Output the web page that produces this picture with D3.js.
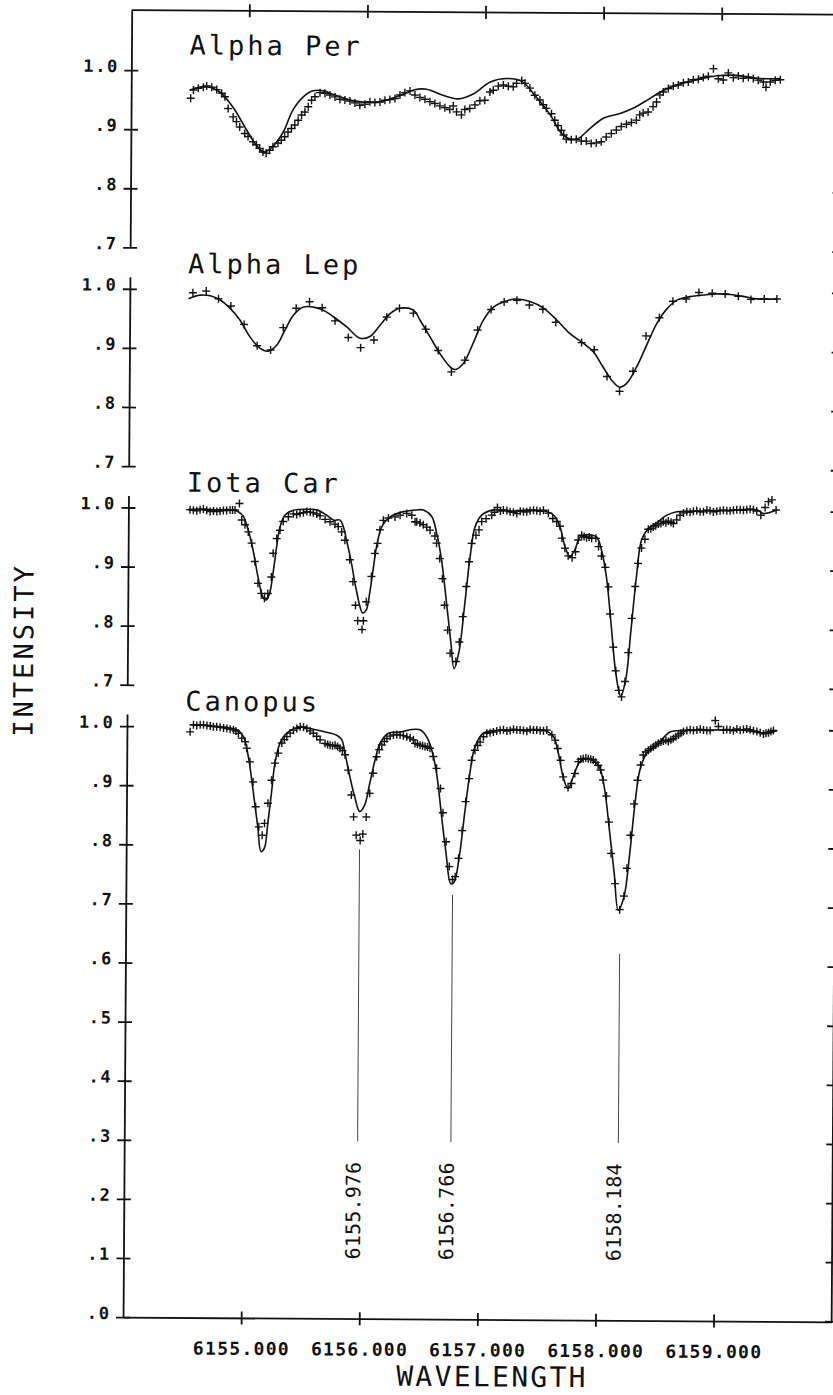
<!DOCTYPE html>
<html>
<head>
<meta charset="utf-8">
<script src="https://cdn.jsdelivr.net/npm/d3@7"></script>
<style>
  body { margin: 0; background: #fff; }
  svg { display: block; background: #fff; }
  text { font-family: "DejaVu Sans Mono", monospace; fill: #111; }
</style>
</head>
<body>
<svg id="chart" width="833" height="1395"></svg>
<script>

/* Star names, top to bottom */
var starNames = ["Alpha Per", "Alpha Lep", "Iota Car", "Canopus"];

/* Tick values */
var upperTicks = [1.0, 0.9, 0.8, 0.7];
var lowerTicks = [1.0, 0.9, 0.8, 0.7, 0.6, 0.5, 0.4, 0.3, 0.2, 0.1, 0.0];
var wavelengthTicks = [6155, 6156, 6157, 6158, 6159];

/* Marked line centres */
var lineIds = [6155.976, 6156.766, 6158.184];
var lineTops = [0.794, 0.718, 0.62];

/* Synthetic spectra (solid curves), [wavelength, intensity] */
var alphaPerModel = [[6154.498,0.967],[6154.625,0.973],[6154.750,0.964],[6154.860,0.939],[6154.980,0.900],[6155.060,0.875],[6155.130,0.863],[6155.200,0.872],[6155.290,0.897],[6155.370,0.934],[6155.460,0.957],[6155.540,0.967],[6155.630,0.967],[6155.700,0.962],[6155.900,0.950],[6156.100,0.949],[6156.300,0.962],[6156.400,0.970],[6156.500,0.971],[6156.640,0.961],[6156.770,0.955],[6156.900,0.964],[6157.040,0.984],[6157.180,0.990],[6157.310,0.985],[6157.430,0.959],[6157.550,0.929],[6157.660,0.895],[6157.770,0.888],[6157.890,0.907],[6158.000,0.924],[6158.140,0.932],[6158.250,0.941],[6158.370,0.955],[6158.480,0.969],[6158.620,0.981],[6158.790,0.990],[6158.960,0.997],[6159.130,0.998],[6159.300,0.993],[6159.500,0.993]];

var alphaLepModel = [[6154.497,0.984],[6154.596,0.990],[6154.681,0.989],[6154.765,0.982],[6154.850,0.968],[6154.935,0.948],[6155.019,0.920],[6155.104,0.901],[6155.174,0.896],[6155.246,0.906],[6155.316,0.932],[6155.386,0.957],[6155.471,0.971],[6155.555,0.971],[6155.640,0.966],[6155.725,0.955],[6155.838,0.938],[6155.951,0.919],[6156.036,0.922],[6156.120,0.941],[6156.205,0.961],[6156.290,0.970],[6156.402,0.967],[6156.459,0.950],[6156.544,0.922],[6156.628,0.894],[6156.713,0.872],[6156.755,0.867],[6156.826,0.877],[6156.910,0.912],[6156.995,0.951],[6157.080,0.973],[6157.193,0.984],[6157.278,0.987],[6157.390,0.983],[6157.503,0.972],[6157.616,0.952],[6157.729,0.929],[6157.842,0.913],[6157.926,0.899],[6158.011,0.873],[6158.096,0.848],[6158.152,0.839],[6158.209,0.845],[6158.294,0.873],[6158.378,0.910],[6158.463,0.947],[6158.548,0.972],[6158.633,0.987],[6158.745,0.993],[6158.858,0.996],[6158.971,0.998],[6159.083,0.997],[6159.196,0.994],[6159.310,0.990],[6159.479,0.990]];

var iotaCarModel = [[6154.508,0.997],[6154.607,0.998],[6154.749,0.997],[6154.889,0.997],[6154.931,0.994],[6154.974,0.986],[6155.016,0.963],[6155.058,0.929],[6155.101,0.884],[6155.143,0.850],[6155.172,0.845],[6155.200,0.856],[6155.228,0.890],[6155.257,0.935],[6155.285,0.969],[6155.327,0.989],[6155.397,0.997],[6155.511,0.999],[6155.595,0.998],[6155.680,0.989],[6155.736,0.981],[6155.793,0.981],[6155.820,0.970],[6155.849,0.947],[6155.892,0.908],[6155.934,0.863],[6155.990,0.824],[6156.019,0.829],[6156.047,0.857],[6156.075,0.897],[6156.103,0.936],[6156.146,0.970],[6156.216,0.987],[6156.329,0.996],[6156.442,0.999],[6156.498,0.999],[6156.569,0.988],[6156.611,0.960],[6156.654,0.915],[6156.696,0.847],[6156.738,0.774],[6156.766,0.731],[6156.809,0.762],[6156.851,0.836],[6156.893,0.915],[6156.936,0.971],[6156.992,0.991],[6157.091,1.000],[6157.232,0.998],[6157.373,1.000],[6157.514,0.999],[6157.599,0.992],[6157.655,0.972],[6157.698,0.939],[6157.740,0.922],[6157.782,0.933],[6157.825,0.955],[6157.881,0.959],[6157.966,0.955],[6158.008,0.933],[6158.051,0.888],[6158.093,0.809],[6158.136,0.725],[6158.178,0.686],[6158.220,0.714],[6158.262,0.798],[6158.305,0.888],[6158.347,0.951],[6158.403,0.970],[6158.474,0.980],[6158.559,0.993],[6158.643,0.999],[6158.784,1.000],[6159.067,1.002],[6159.321,1.003],[6159.377,0.997],[6159.490,1.003]];

var canopusModel = [[6154.535,1.003],[6154.677,1.002],[6154.846,0.999],[6154.931,0.995],[6154.986,0.984],[6155.029,0.950],[6155.071,0.893],[6155.113,0.831],[6155.142,0.789],[6155.170,0.795],[6155.198,0.837],[6155.227,0.888],[6155.255,0.939],[6155.297,0.973],[6155.354,0.990],[6155.467,1.001],[6155.551,0.998],[6155.664,0.993],[6155.777,0.987],[6155.820,0.979],[6155.848,0.956],[6155.890,0.917],[6155.932,0.883],[6155.975,0.858],[6156.017,0.869],[6156.059,0.906],[6156.102,0.945],[6156.144,0.974],[6156.214,0.991],[6156.313,0.993],[6156.398,0.997],[6156.482,0.997],[6156.539,0.985],[6156.582,0.963],[6156.624,0.924],[6156.666,0.856],[6156.709,0.788],[6156.751,0.737],[6156.779,0.740],[6156.821,0.783],[6156.864,0.856],[6156.906,0.924],[6156.948,0.969],[6157.019,0.992],[6157.132,0.997],[6157.386,0.998],[6157.527,0.998],[6157.611,0.987],[6157.654,0.959],[6157.696,0.919],[6157.738,0.899],[6157.781,0.919],[6157.837,0.945],[6157.894,0.950],[6157.964,0.945],[6158.007,0.934],[6158.049,0.897],[6158.091,0.829],[6158.134,0.756],[6158.170,0.694],[6158.218,0.717],[6158.261,0.784],[6158.303,0.869],[6158.345,0.931],[6158.402,0.960],[6158.487,0.974],[6158.599,0.996],[6158.712,0.999],[6158.938,1.000],[6159.220,1.000],[6159.362,0.996],[6159.503,0.999]];

/* Observed spectra (plus markers), [wavelength, intensity] */
var alphaPerObs = [[6154.504,0.953],[6154.527,0.967],[6154.568,0.970],[6154.611,0.972],[6154.639,0.974],[6154.682,0.972],[6154.724,0.968],[6154.766,0.962],[6154.794,0.956],[6154.822,0.936],[6154.865,0.922],[6154.893,0.914],[6154.921,0.905],[6154.964,0.894],[6154.992,0.889],[6155.034,0.880],[6155.063,0.875],[6155.091,0.869],[6155.119,0.863],[6155.147,0.861],[6155.175,0.866],[6155.203,0.872],[6155.246,0.878],[6155.274,0.883],[6155.302,0.889],[6155.330,0.897],[6155.359,0.903],[6155.387,0.909],[6155.415,0.917],[6155.444,0.926],[6155.472,0.931],[6155.500,0.940],[6155.528,0.951],[6155.556,0.957],[6155.599,0.964],[6155.641,0.963],[6155.683,0.960],[6155.726,0.957],[6155.768,0.953],[6155.810,0.952],[6155.853,0.950],[6155.895,0.947],[6155.937,0.943],[6155.980,0.945],[6156.022,0.949],[6156.064,0.948],[6156.107,0.949],[6156.149,0.952],[6156.191,0.953],[6156.234,0.955],[6156.276,0.961],[6156.318,0.965],[6156.361,0.968],[6156.403,0.961],[6156.445,0.957],[6156.488,0.954],[6156.530,0.950],[6156.572,0.947],[6156.615,0.943],[6156.657,0.940],[6156.699,0.937],[6156.728,0.943],[6156.756,0.933],[6156.798,0.928],[6156.826,0.937],[6156.868,0.939],[6156.911,0.945],[6156.953,0.952],[6156.995,0.953],[6157.038,0.967],[6157.066,0.970],[6157.108,0.977],[6157.151,0.979],[6157.193,0.977],[6157.235,0.976],[6157.263,0.982],[6157.306,0.987],[6157.334,0.982],[6157.376,0.974],[6157.418,0.962],[6157.461,0.954],[6157.489,0.946],[6157.517,0.940],[6157.560,0.931],[6157.588,0.920],[6157.616,0.911],[6157.645,0.903],[6157.664,0.895],[6157.687,0.888],[6157.729,0.887],[6157.771,0.888],[6157.814,0.885],[6157.856,0.885],[6157.898,0.881],[6157.941,0.882],[6157.983,0.884],[6158.025,0.892],[6158.068,0.898],[6158.110,0.904],[6158.152,0.910],[6158.195,0.914],[6158.237,0.917],[6158.279,0.921],[6158.307,0.930],[6158.336,0.933],[6158.378,0.935],[6158.420,0.944],[6158.449,0.952],[6158.477,0.964],[6158.505,0.969],[6158.548,0.975],[6158.590,0.979],[6158.632,0.981],[6158.675,0.985],[6158.717,0.986],[6158.759,0.990],[6158.802,0.991],[6158.844,0.994],[6158.886,0.996],[6158.929,1.009],[6158.971,0.992],[6159.013,0.990],[6159.055,1.002],[6159.098,0.994],[6159.140,0.997],[6159.182,0.993],[6159.225,0.995],[6159.267,0.993],[6159.309,0.990],[6159.352,0.987],[6159.375,0.978],[6159.411,0.987],[6159.453,0.990],[6159.496,0.991]];

var alphaLepObs = [[6154.534,0.994],[6154.647,0.997],[6154.751,0.984],[6154.856,0.972],[6154.969,0.941],[6155.081,0.905],[6155.195,0.898],[6155.301,0.936],[6155.409,0.969],[6155.522,0.980],[6155.629,0.970],[6155.739,0.948],[6155.852,0.920],[6155.957,0.903],[6156.069,0.916],[6156.177,0.955],[6156.284,0.970],[6156.402,0.962],[6156.507,0.935],[6156.614,0.899],[6156.727,0.863],[6156.840,0.883],[6156.947,0.934],[6157.060,0.969],[6157.170,0.982],[6157.278,0.985],[6157.384,0.977],[6157.498,0.970],[6157.608,0.948],[6157.828,0.914],[6157.935,0.902],[6158.045,0.857],[6158.152,0.832],[6158.265,0.866],[6158.373,0.926],[6158.485,0.957],[6158.599,0.985],[6158.711,0.989],[6158.819,1.000],[6158.931,0.999],[6159.041,0.998],[6159.152,0.994],[6159.259,0.989],[6159.372,0.990],[6159.479,0.990]];

var iotaCarObs = [[6154.522,0.997],[6154.550,0.996],[6154.579,0.995],[6154.607,0.997],[6154.635,0.998],[6154.663,0.996],[6154.692,0.994],[6154.720,0.995],[6154.749,0.994],[6154.776,0.995],[6154.804,0.996],[6154.832,0.996],[6154.861,0.997],[6154.882,0.997],[6154.903,0.997],[6154.940,1.008],[6154.960,0.980],[6154.988,0.972],[6155.016,0.960],[6155.045,0.941],[6155.073,0.910],[6155.101,0.873],[6155.130,0.856],[6155.157,0.848],[6155.185,0.856],[6155.214,0.884],[6155.228,0.924],[6155.257,0.949],[6155.285,0.963],[6155.312,0.978],[6155.355,0.986],[6155.397,0.991],[6155.425,0.990],[6155.454,0.992],[6155.482,0.993],[6155.511,0.995],[6155.540,0.994],[6155.566,0.993],[6155.595,0.991],[6155.623,0.988],[6155.666,0.982],[6155.708,0.978],[6155.750,0.974],[6155.778,0.970],[6155.807,0.961],[6155.835,0.947],[6155.877,0.914],[6155.905,0.877],[6155.928,0.837],[6155.948,0.811],[6155.985,0.796],[6155.996,0.811],[6156.019,0.843],[6156.061,0.886],[6156.089,0.925],[6156.112,0.942],[6156.131,0.965],[6156.159,0.981],[6156.202,0.985],[6156.258,0.987],[6156.301,0.990],[6156.357,0.993],[6156.400,0.990],[6156.428,0.979],[6156.442,0.979],[6156.470,0.977],[6156.498,0.974],[6156.527,0.970],[6156.555,0.965],[6156.597,0.955],[6156.611,0.943],[6156.639,0.917],[6156.662,0.883],[6156.682,0.838],[6156.710,0.796],[6156.732,0.757],[6156.781,0.743],[6156.809,0.776],[6156.837,0.819],[6156.865,0.870],[6156.887,0.912],[6156.908,0.943],[6156.944,0.957],[6156.970,0.966],[6156.992,0.980],[6157.029,0.985],[6157.077,0.991],[6157.100,0.996],[6157.124,1.004],[6157.150,0.998],[6157.175,1.000],[6157.205,0.999],[6157.232,0.997],[6157.260,0.996],[6157.289,0.994],[6157.318,0.998],[6157.345,0.997],[6157.373,0.997],[6157.401,0.999],[6157.430,1.000],[6157.458,0.999],[6157.486,0.998],[6157.514,1.000],[6157.556,0.995],[6157.594,0.986],[6157.627,0.981],[6157.655,0.973],[6157.672,0.953],[6157.698,0.936],[6157.726,0.923],[6157.760,0.920],[6157.788,0.930],[6157.810,0.950],[6157.839,0.958],[6157.860,0.956],[6157.881,0.954],[6157.903,0.955],[6157.924,0.953],[6157.960,0.953],[6157.983,0.939],[6158.008,0.923],[6158.042,0.904],[6158.070,0.871],[6158.085,0.825],[6158.113,0.769],[6158.136,0.729],[6158.163,0.696],[6158.186,0.685],[6158.214,0.711],[6158.240,0.760],[6158.268,0.818],[6158.296,0.872],[6158.318,0.911],[6158.347,0.937],[6158.375,0.952],[6158.403,0.969],[6158.424,0.970],[6158.445,0.973],[6158.466,0.975],[6158.488,0.978],[6158.510,0.979],[6158.530,0.982],[6158.552,0.980],[6158.572,0.983],[6158.595,0.981],[6158.615,0.979],[6158.643,0.985],[6158.671,0.993],[6158.700,0.997],[6158.728,0.999],[6158.756,0.998],[6158.784,1.000],[6158.812,1.001],[6158.841,0.999],[6158.869,0.999],[6158.898,1.002],[6158.925,1.001],[6158.953,0.999],[6158.982,1.000],[6159.010,1.001],[6159.038,1.002],[6159.067,1.001],[6159.095,1.001],[6159.123,1.002],[6159.151,1.003],[6159.180,1.003],[6159.208,1.002],[6159.236,1.003],[6159.264,1.004],[6159.292,1.003],[6159.320,1.001],[6159.355,0.994],[6159.391,1.007],[6159.419,1.017],[6159.448,1.020],[6159.484,1.003]];

var canopusObs = [[6154.535,0.991],[6154.563,1.003],[6154.591,1.002],[6154.620,1.003],[6154.648,1.003],[6154.677,1.002],[6154.705,1.001],[6154.732,1.000],[6154.760,1.000],[6154.789,0.999],[6154.818,0.998],[6154.846,0.997],[6154.874,0.996],[6154.902,0.995],[6154.923,0.993],[6154.944,0.989],[6154.973,0.981],[6155.001,0.975],[6155.015,0.964],[6155.043,0.941],[6155.071,0.907],[6155.094,0.865],[6155.122,0.831],[6155.151,0.817],[6155.170,0.837],[6155.198,0.871],[6155.227,0.910],[6155.255,0.939],[6155.283,0.956],[6155.312,0.973],[6155.333,0.979],[6155.354,0.984],[6155.382,0.990],[6155.410,0.995],[6155.438,0.998],[6155.467,1.001],[6155.495,1.000],[6155.523,0.998],[6155.551,0.994],[6155.579,0.990],[6155.607,0.985],[6155.636,0.979],[6155.678,0.973],[6155.700,0.971],[6155.721,0.970],[6155.742,0.969],[6155.763,0.970],[6155.784,0.968],[6155.805,0.965],[6155.826,0.961],[6155.848,0.954],[6155.876,0.928],[6155.904,0.886],[6155.924,0.849],[6155.947,0.818],[6155.981,0.809],[6156.003,0.820],[6156.031,0.849],[6156.059,0.889],[6156.087,0.923],[6156.116,0.951],[6156.137,0.963],[6156.158,0.971],[6156.180,0.977],[6156.201,0.982],[6156.229,0.986],[6156.257,0.988],[6156.285,0.989],[6156.313,0.988],[6156.341,0.987],[6156.370,0.985],[6156.398,0.983],[6156.426,0.980],[6156.440,0.974],[6156.461,0.973],[6156.483,0.971],[6156.504,0.970],[6156.525,0.969],[6156.546,0.968],[6156.567,0.966],[6156.595,0.952],[6156.624,0.932],[6156.658,0.898],[6156.680,0.857],[6156.709,0.808],[6156.737,0.766],[6156.765,0.744],[6156.787,0.749],[6156.815,0.780],[6156.844,0.827],[6156.872,0.876],[6156.900,0.915],[6156.920,0.946],[6156.948,0.963],[6156.970,0.971],[6156.991,0.977],[6157.019,0.986],[6157.047,0.992],[6157.075,0.993],[6157.103,0.994],[6157.131,0.996],[6157.160,0.997],[6157.188,0.998],[6157.217,0.996],[6157.245,0.997],[6157.273,0.999],[6157.301,0.998],[6157.329,0.998],[6157.357,0.997],[6157.386,0.996],[6157.414,0.999],[6157.442,0.998],[6157.470,0.998],[6157.499,0.997],[6157.527,0.997],[6157.555,0.998],[6157.598,0.990],[6157.626,0.981],[6157.649,0.967],[6157.674,0.947],[6157.696,0.919],[6157.738,0.901],[6157.767,0.908],[6157.795,0.925],[6157.823,0.945],[6157.844,0.949],[6157.865,0.950],[6157.887,0.951],[6157.908,0.950],[6157.929,0.949],[6157.950,0.948],[6157.971,0.944],[6157.992,0.939],[6158.013,0.931],[6158.035,0.914],[6158.064,0.887],[6158.086,0.843],[6158.106,0.790],[6158.142,0.739],[6158.182,0.695],[6158.218,0.718],[6158.241,0.765],[6158.269,0.821],[6158.297,0.874],[6158.326,0.914],[6158.351,0.940],[6158.373,0.957],[6158.395,0.962],[6158.416,0.965],[6158.437,0.968],[6158.458,0.971],[6158.479,0.974],[6158.500,0.977],[6158.522,0.979],[6158.543,0.981],[6158.564,0.982],[6158.585,0.980],[6158.606,0.983],[6158.627,0.985],[6158.648,0.988],[6158.670,0.991],[6158.691,0.994],[6158.712,0.997],[6158.741,0.999],[6158.769,1.000],[6158.797,0.999],[6158.826,1.000],[6158.854,1.001],[6158.882,1.000],[6158.910,0.999],[6158.938,0.999],[6158.981,1.016],[6159.008,1.006],[6159.051,1.000],[6159.079,1.001],[6159.107,1.000],[6159.135,0.999],[6159.164,1.002],[6159.192,1.000],[6159.220,1.001],[6159.248,1.002],[6159.277,1.001],[6159.305,0.999],[6159.334,0.998],[6159.362,0.996],[6159.390,0.994],[6159.411,0.995],[6159.432,0.996],[6159.453,0.998],[6159.474,1.000]];

var models = [alphaPerModel, alphaLepModel, iotaCarModel, canopusModel];
var observed = [alphaPerObs, alphaLepObs, iotaCarObs, canopusObs];

/* Layout: each spectrum is lifted 0.37 above the one below it */
var panelShift = [1.11, 0.74, 0.37, 0];
var panelBottom = [0.7, 0.7, 0.7, 0.0];

var svg = d3.select("#chart");

/* the scanned plot is a little turned; rotate the whole drawing */
var g = svg.append("g").attr("transform", "rotate(0.38,125,662)");

var x = d3.scaleLinear().domain([6154, 6160]).range([127.4, 836]);
var y = d3.scaleLinear().domain([0, 1]).range([1317.1, 726.1]);
var frameTop = y.invert(10);

function fmt(v) {
  return v === 1 ? "1.0" : d3.format(".1f")(v).replace(/^0/, "");
}

/* Frame: top and right */
g.append("line").attr("x1", x(6154)).attr("x2", x(6160)).attr("y1", y(frameTop)).attr("y2", y(frameTop))
  .attr("stroke", "#111").attr("stroke-width", 1.8);
g.append("line").attr("x1", x(6160)).attr("x2", x(6160)).attr("y1", y(frameTop)).attr("y2", y(0))
  .attr("stroke", "#111").attr("stroke-width", 1.8);

/* Top ticks */
g.selectAll(".top-tick").data(wavelengthTicks).enter().append("line")
  .attr("class", "top-tick")
  .attr("x1", (d) => x(d)).attr("x2", (d) => x(d))
  .attr("y1", y(frameTop) - 6.5).attr("y2", y(frameTop) + 6.5)
  .attr("stroke", "#111").attr("stroke-width", 1.8);

/* Bottom axis */
var bottomAxis = g.append("g")
  .attr("transform", `translate(0,${y(0)})`)
  .call(d3.axisBottom(x).tickValues(wavelengthTicks).tickSizeOuter(0).tickFormat(d3.format(".3f")));
bottomAxis.select(".domain").attr("stroke", "#111").attr("stroke-width", 1.8);
bottomAxis.selectAll(".tick line").attr("y1", -6.5).attr("y2", 6.5).attr("stroke", "#111").attr("stroke-width", 1.8);
bottomAxis.selectAll(".tick text")
  .attr("y", 37).attr("dy", 0)
  .style("font-family", "'DejaVu Sans Mono', monospace")
  .style("font-size", "18px").style("font-weight", "bold").style("letter-spacing", "1.3px")
  .attr("fill", "#111");

/* One left axis, right ticks, curve and markers per star */
starNames.forEach(function(name, i) {
  var shift = panelShift[i];
  var ticks = i === 3 ? lowerTicks : upperTicks;
  var topV = i === 0 ? frameTop - shift : 1 + 12 / 591;
  var yk = d3.scaleLinear()
    .domain([panelBottom[i], topV])
    .range([y(panelBottom[i] + shift), y(topV + shift)]);

  var ax = g.append("g")
    .attr("transform", `translate(${x(6154)},0)`)
    .call(d3.axisLeft(yk).tickValues(ticks).tickSizeOuter(0).tickFormat(fmt));
  ax.select(".domain").attr("stroke", "#111").attr("stroke-width", 1.8);
  ax.selectAll(".tick line").attr("x1", -7).attr("x2", 7).attr("stroke", "#111").attr("stroke-width", 1.8);
  ax.selectAll(".tick text")
    .attr("x", -12.5).attr("y", 1.5).attr("dy", 0)
    .style("font-family", "'DejaVu Sans Mono', monospace")
    .style("font-size", "17px").style("font-weight", "bold").style("letter-spacing", "1.6px")
    .attr("fill", "#111");

  /* right frame ticks */
  g.selectAll(".rtick-" + i).data(ticks).enter().append("line")
    .attr("x1", x(6160) - 6.5).attr("x2", x(6160) + 6.5)
    .attr("y1", (d) => yk(d)).attr("y2", (d) => yk(d))
    .attr("stroke", "#111").attr("stroke-width", 1.8);

  /* star name */
  g.append("text")
    .attr("x", 185.5).attr("y", yk(1) - 16)
    .style("font-size", "27px").style("letter-spacing", "3px")
    .text(name);

  /* synthetic curve */
  var line = d3.line()
    .x((d) => x(d[0]))
    .y((d) => y(d[1] + shift))
    .curve(d3.curveCatmullRom.alpha(0.5));
  g.append("path")
    .datum(models[i])
    .attr("d", line)
    .attr("fill", "none")
    .attr("stroke", "#111")
    .attr("stroke-width", 1.6);

  /* observed points as plus signs */
  g.selectAll(".obs-" + i).data(observed[i]).enter().append("path")
    .attr("transform", (d) => `translate(${x(d[0])},${y(d[1] + shift)})`)
    .attr("d", "M-4,0H4M0,-4V4")
    .attr("fill", "none")
    .attr("stroke", "#111")
    .attr("stroke-width", 1.4);
});

/* Identification lines below Canopus */
lineIds.forEach(function(wl, i) {
  g.append("line")
    .attr("x1", x(wl)).attr("x2", x(wl))
    .attr("y1", y(lineTops[i])).attr("y2", y(0.30))
    .attr("stroke", "#333").attr("stroke-width", 0.9);
  g.append("text")
    .attr("transform", `translate(${x(wl) + 3},${y(0.1)}) rotate(-90)`)
    .style("font-size", "20px").style("letter-spacing", "0.2px")
    .attr("fill", "#222")
    .text(d3.format(".3f")(wl));
});

/* Axis titles */
g.append("text")
  .attr("x", 496.8).attr("y", 1384)
  .attr("text-anchor", "middle")
  .style("font-size", "28px").style("letter-spacing", "2.3px")
  .text("WAVELENGTH");

g.append("text")
  .attr("transform", "translate(33,650.6) rotate(-90)")
  .attr("text-anchor", "middle")
  .style("font-size", "27px").style("letter-spacing", "3px")
  .text("INTENSITY");

</script>
</body>
</html>
